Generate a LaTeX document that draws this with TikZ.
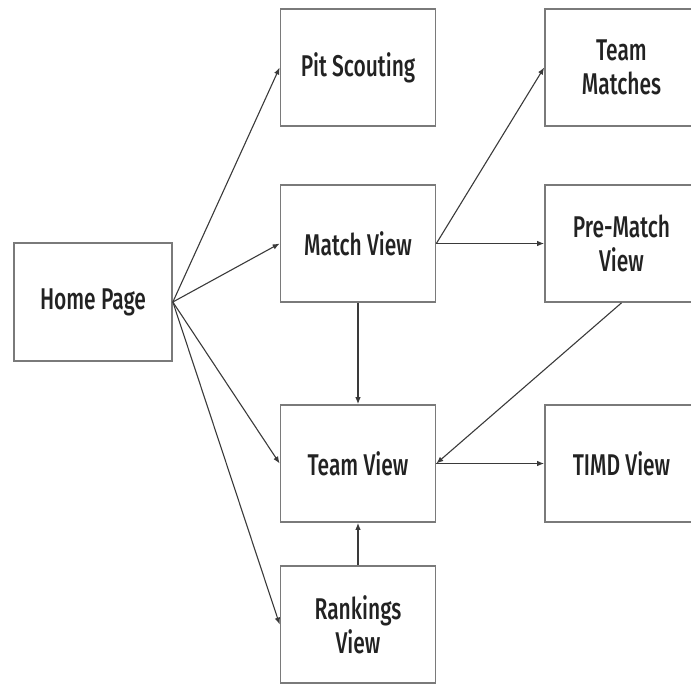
\documentclass[tikz,border=0pt]{standalone}
\usepackage{fontspec}
\setmainfont{Fira Sans}[FakeStretch=0.70, UprightFont={* Medium}]
\usetikzlibrary{arrows.meta}
\definecolor{boxline}{HTML}{7A7A7A}
\definecolor{arrowline}{HTML}{3A3A3A}
\definecolor{labeltext}{HTML}{222222}
\tikzset{
  screen/.style={draw=boxline, line width=1.7pt, fill=white, rectangle,
    minimum width=155pt, minimum height=117pt, inner sep=0pt,
    align=center, text=labeltext, font=\fontsize{30}{34}\selectfont},
  link/.style={draw=arrowline, line width=1.1pt,
    -{Latex[length=7pt,width=5.5pt]}}
}
\begin{document}
\begin{tikzpicture}[x=1pt, y=-1pt]
  \useasboundingbox (0,0) rectangle (691,683);
  \clip (0,0) rectangle (691,683);
  % pages of the app
  \node[screen, minimum width=158pt, minimum height=118pt] (home) at (93,302) {Home Page};
  \node[screen] (pit)   at (358,67.5)  {Pit Scouting};
  \node[screen] (match) at (358,243.5) {Match View};
  \node[screen] (team)  at (358,463.5) {Team View};
  \node[screen] (rank)  at (358,624.5) {Rankings\\View};
  \node[screen, minimum width=153pt] (tmatch) at (621.5,67.5)  {Team\\Matches};
  \node[screen, minimum width=153pt] (pre)    at (621.5,243.5) {Pre-Match\\View};
  \node[screen, minimum width=153pt] (timd)   at (621.5,463.5) {TIMD View};
  % navigation links
  \draw[link] (home.east) -- (pit.west);
  \draw[link] (home.east) -- (match.west);
  \draw[link] (home.east) -- (team.west);
  \draw[link] (home.east) -- (rank.west);
  \draw[link] (match.east) -- (tmatch.west);
  \draw[link] (match.east) -- (pre.west);
  \draw[link] (match.south) -- (team.north);
  \draw[link] (rank.north) -- (team.south);
  \draw[link] (pre.south) -- (team.east);
  \draw[link] (team.east) -- (timd.west);
\end{tikzpicture}
\end{document}
